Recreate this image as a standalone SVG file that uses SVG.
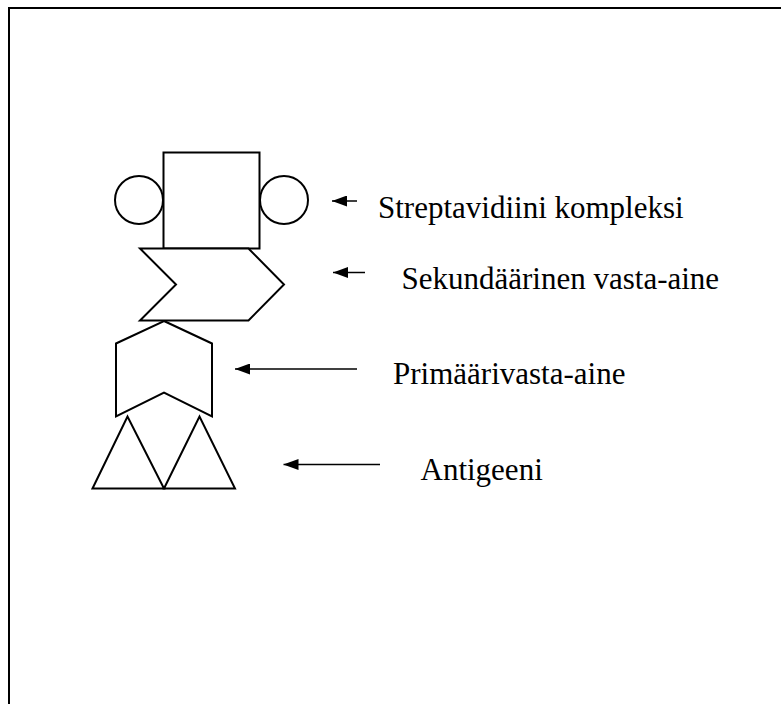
<svg xmlns="http://www.w3.org/2000/svg" width="781" height="704" viewBox="0 0 781 704">
  <style>
    .shape { fill: #fff; stroke: #000; stroke-width: 2; stroke-linejoin: miter; }
    .frame { fill: none; stroke: #000; stroke-width: 2; }
    .conn { stroke: #000; stroke-width: 1.5; fill: none; marker-start: url(#head); }
    .label { font-family: "Liberation Serif", "Times New Roman", serif; font-size: 31px; fill: #000; }
  </style>
  <defs>
    <marker id="head" viewBox="0 0 15 11" refX="0" refY="5.5" markerWidth="15" markerHeight="11" markerUnits="userSpaceOnUse" orient="auto">
      <path d="M15,0 L0,5.5 L15,11 Z" fill="#000"/>
    </marker>
  </defs>

  <rect width="781" height="704" fill="#fff"/>
  <!-- page frame: top and left edges -->
  <path class="frame" d="M9,704 V8 H781"/>

  <!-- streptavidin complex: square with two side circles -->
  <g id="streptavidin">
    <circle class="shape" cx="139" cy="200" r="24"/>
    <circle class="shape" cx="284" cy="200" r="24"/>
    <rect class="shape" x="163.5" y="152.5" width="96" height="96"/>
  </g>

  <!-- secondary antibody: chevron -->
  <g id="secondary-antibody">
    <polygon class="shape" points="140,248.5 248.5,248.5 284,284.5 248.5,320.5 140,320.5 176,284.5"/>
  </g>

  <!-- primary antibody: notched pentagon -->
  <g id="primary-antibody">
    <polygon class="shape" points="164,321 212,343.5 212,416.5 164,392.5 116,416.5 116,343.5"/>
  </g>

  <!-- antigen: two triangles -->
  <g id="antigen">
    <polygon class="shape" points="92.5,488.5 127.5,416.5 164,488.5"/>
    <polygon class="shape" points="164,488.5 199.5,416.5 235,488.5"/>
  </g>

  <!-- pointer arrows -->
  <g id="connectors">
    <line class="conn" x1="332" y1="201" x2="357" y2="201"/>
    <line class="conn" x1="333" y1="272.5" x2="365" y2="272.5"/>
    <line class="conn" x1="235" y1="369" x2="357" y2="369"/>
    <line class="conn" x1="283.5" y1="464.5" x2="380" y2="464.5"/>
  </g>

  <!-- labels -->
  <g id="labels">
    <text class="label" x="378" y="217.5">Streptavidiini kompleksi</text>
    <text class="label" x="401.5" y="288.5">Sekundäärinen vasta-aine</text>
    <text class="label" x="393" y="383.5">Primäärivasta-aine</text>
    <text class="label" x="420.5" y="480">Antigeeni</text>
  </g>
</svg>
